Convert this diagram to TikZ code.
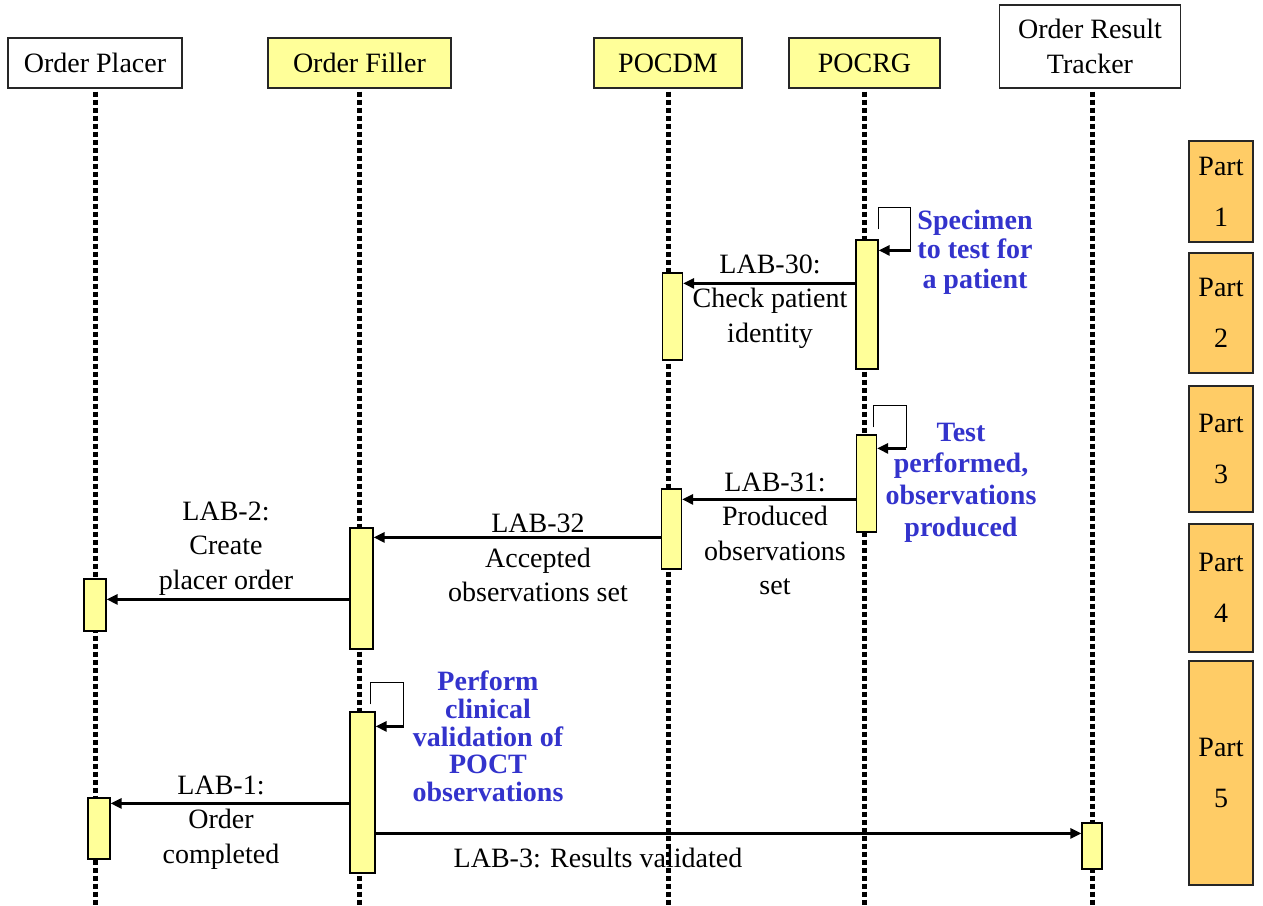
\documentclass[tikz,border=0pt]{standalone}
\usepackage{fontspec}
\setmainfont{Liberation Serif}
\usetikzlibrary{arrows.meta,calc}
\definecolor{actfill}{RGB}{255,255,153}
\definecolor{partfill}{RGB}{255,204,102}
\definecolor{noteblue}{RGB}{51,51,204}

\begin{document}
\begin{tikzpicture}[x=1pt,y=-1pt,
  every node/.style={font=\fontsize{28}{34.5}\selectfont, inner sep=0pt},
  actor/.style={draw=black!85, line width=1.3pt, align=center},
  lifeline/.style={line width=5pt, dash pattern=on 5pt off 3pt},
  act/.style={draw=black, line width=1.2pt, fill=actfill},
  msg/.style={line width=2.6pt, -{Triangle[length=11pt,width=10pt]}},
  loopline/.style={line width=1pt},
  lbl/.style={align=center},
  note/.style={align=center, text=noteblue, font=\bfseries\fontsize{28}{#1}\selectfont},
  partbox/.style={draw=black!85, line width=1.2pt, fill=partfill, minimum width=64pt,
    align=center, font=\fontsize{28}{51}\selectfont}
]
\useasboundingbox (0,0) rectangle (1263,905);
\coordinate (bottom) at (0,905);

% participants
\node[actor, fill=white,   minimum width=174pt, minimum height=50pt] (op)  at (95,63)    {Order Placer};
\node[actor, fill=actfill, minimum width=183pt, minimum height=50pt] (of)  at (359.5,63) {Order Filler};
\node[actor, fill=actfill, minimum width=148pt, minimum height=50pt] (dm)  at (668,63)   {POCDM};
\node[actor, fill=actfill, minimum width=151pt, minimum height=50pt] (rg)  at (864.5,63) {POCRG};
\node[actor, fill=white,   minimum width=181pt, minimum height=83pt] (ort) at (1090,46.5) {Order Result\\Tracker};

% lifelines
\draw[lifeline] ([yshift=-3pt]op.south)  -- (op.south |- bottom);
\draw[lifeline] ([yshift=-3pt]of.south)  -- (of.south |- bottom);
\draw[lifeline] ([yshift=-3pt]dm.south)  -- (dm.south |- bottom);
\draw[lifeline] ([yshift=-3pt]rg.south)  -- (rg.south |- bottom);
\draw[lifeline] ([xshift=2pt,yshift=-3pt]ort.south) -- ([xshift=2pt]ort.south |- bottom);

% activations
\node[act, minimum width=22pt, minimum height=129pt] (rg1) at (867,304.5)   {};
\node[act, minimum width=20pt, minimum height=87pt]  (dm1) at (672.5,316.5) {};
\node[act, minimum width=20pt, minimum height=97pt]  (rg2) at (866.5,483.5) {};
\node[act, minimum width=20pt, minimum height=80pt]  (dm2) at (671.5,529)   {};
\node[act, minimum width=23pt, minimum height=121pt] (of1) at (361.5,588.5) {};
\node[act, minimum width=22pt, minimum height=52pt]  (op1) at (95,605)      {};
\node[act, minimum width=25pt, minimum height=161pt] (of2) at (362.5,792.5) {};
\node[act, minimum width=22pt, minimum height=61pt]  (op2) at (99,828.5)    {};
\node[act, minimum width=20pt, minimum height=46pt]  (ort1) at (1092,846)   {};

% self calls
\draw[loopline] ($(rg1.north east)+(0,-10)$) -- ++(0,-22) -- ++(32,0) -- ++(0,43) coordinate (rg1r);
\draw[msg] (rg1r) -- (rg1r -| rg1.east);
\draw[loopline] ($(rg2.north east)+(-4,-7)$) -- ++(0,-22) -- ++(33,0) -- ++(0,43) coordinate (rg2r);
\draw[msg] (rg2r) -- (rg2r -| rg2.east);
\draw[loopline] ($(of2.north east)+(-5,-7)$) -- ++(0,-22) -- ++(33,0) -- ++(0,44) coordinate (of2r);
\draw[msg] (of2r) -- (of2r -| of2.east);

% messages
\draw[msg] ($(rg1.north west)+(0,44)$) coordinate (m30) -- (m30 -| dm1.east);
\draw[msg] ($(rg2.north west)+(0,65)$) coordinate (m31) -- (m31 -| dm2.east);
\draw[msg] ($(dm2.north west)+(0,49)$) coordinate (m32) -- (m32 -| of1.east);
\draw[msg] ($(of1.north west)+(0,72)$) coordinate (m2)  -- (m2 -| op1.east);
\draw[msg] ($(of2.north west)+(0,92)$) coordinate (m1)  -- (m1 -| op2.east);
\draw[msg] ($(of2.north east)+(0,122)$) coordinate (m3) -- (m3 -| ort1.west);

% message labels
\node[lbl] (t30) at (770,301.5) {LAB-30:\\Check patient\\identity};
\node[lbl] (t31) at (775,534)   {LAB-31:\\Produced\\observations\\set};
\node[lbl] (t32) at (538,558)   {LAB-32\\Accepted\\observations set};
\node[lbl] (t2)  at (226,548.5) {LAB-2:\\Create\\placer order};
\node[lbl] (t1)  at (221,822.5) {LAB-1:\\Order\\completed};
\node[lbl] (t3)  at (598,858)   {LAB-3: Results validated};

% notes
\node[note=29.5]  (n1) at (975,252)   {Specimen\\to test for\\a patient};
\node[note=31.7]  (n2) at (961,482.5) {Test\\performed,\\observations\\produced};
\node[note=27.75] (n3) at (488,736.5) {Perform\\clinical\\validation of\\POCT\\observations};

% parts
\node[partbox, minimum height=101pt] (p1) at (1221,191.5) {Part\\1};
\node[partbox, minimum height=120pt] (p2) at (1221,313)   {Part\\2};
\node[partbox, minimum height=126pt] (p3) at (1221,449)   {Part\\3};
\node[partbox, minimum height=128pt] (p4) at (1221,588)   {Part\\4};
\node[partbox, minimum height=224pt] (p5) at (1221,773)   {Part\\5};
\end{tikzpicture}
\end{document}
